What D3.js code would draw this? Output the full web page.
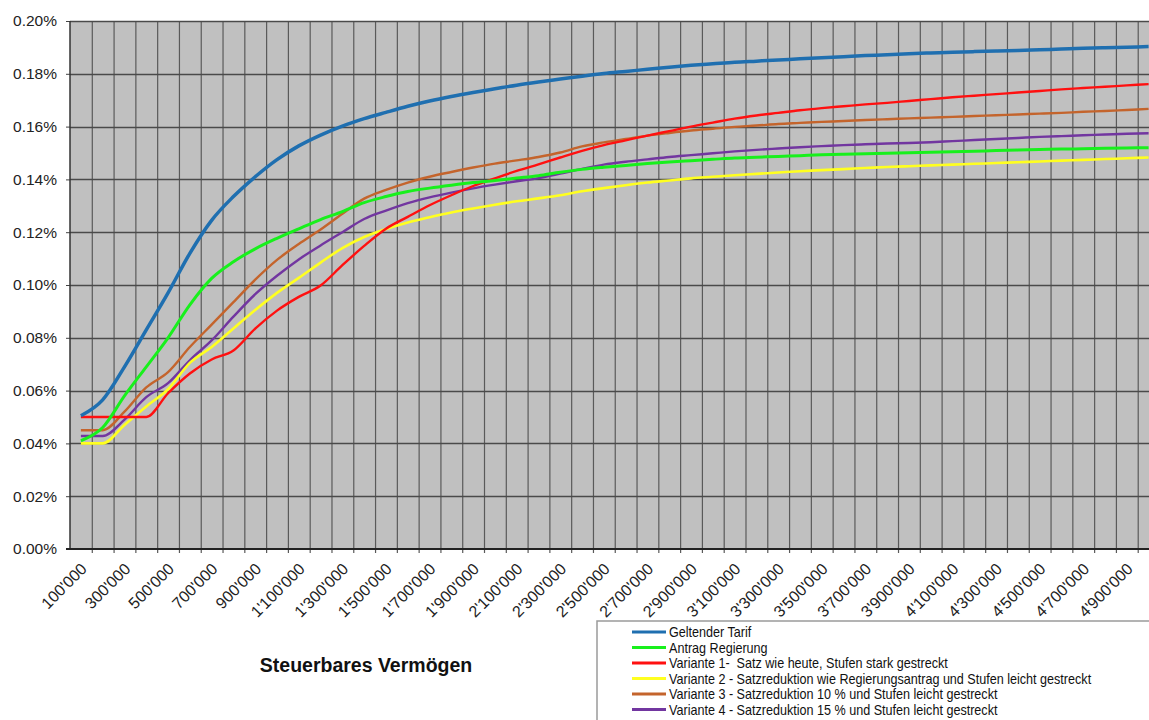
<!DOCTYPE html>
<html>
<head>
<meta charset="utf-8">
<script src="https://cdn.jsdelivr.net/npm/d3@7"></script>
<style>
  body { margin: 0; background: #fff; }
  svg { display: block; font-family: "Liberation Sans", Arial, sans-serif; }
</style>
</head>
<body>
<svg id="chart" width="1149" height="720"></svg>
<script>
// categories (Steuerbares Vermögen), one per 100'000
const categories = [
  "100'000","200'000","300'000","400'000","500'000","600'000","700'000","800'000","900'000","1'000'000",
  "1'100'000","1'200'000","1'300'000","1'400'000","1'500'000","1'600'000","1'700'000","1'800'000","1'900'000","2'000'000",
  "2'100'000","2'200'000","2'300'000","2'400'000","2'500'000","2'600'000","2'700'000","2'800'000","2'900'000","3'000'000",
  "3'100'000","3'200'000","3'300'000","3'400'000","3'500'000","3'600'000","3'700'000","3'800'000","3'900'000","4'000'000",
  "4'100'000","4'200'000","4'300'000","4'400'000","4'500'000","4'600'000","4'700'000","4'800'000","4'900'000","5'000'000"
];
const tickLabels = [
  "100'000","300'000","500'000","700'000","900'000","1'100'000","1'300'000","1'500'000","1'700'000","1'900'000",
  "2'100'000","2'300'000","2'500'000","2'700'000","2'900'000","3'100'000","3'300'000","3'500'000","3'700'000","3'900'000",
  "4'100'000","4'300'000","4'500'000","4'700'000","4'900'000"
];
const yTicks = [0, 0.02, 0.04, 0.06, 0.08, 0.10, 0.12, 0.14, 0.16, 0.18, 0.20];

// values in percent
const geltenderTarif = [
  0.0505,0.0565,0.0690,0.0830,0.0970,0.1120,0.1245,0.1335,0.1410,0.1475,
  0.1527,0.1568,0.1602,0.1630,0.1654,0.1677,0.1697,0.1714,0.1729,0.1743,
  0.1757,0.1769,0.1780,0.1791,0.1801,0.1809,0.1817,0.1825,0.1832,0.1838,
  0.1844,0.1848,0.1852,0.1857,0.1861,0.1865,0.1869,0.1872,0.1876,0.1879,
  0.1882,0.1884,0.1886,0.1888,0.1891,0.1894,0.1897,0.1899,0.1901,0.1903
];
const antragRegierung = [
  0.0410,0.0460,0.0580,0.0690,0.0800,0.0925,0.1025,0.1088,0.1137,0.1177,
  0.1213,0.1248,0.1278,0.1312,0.1335,0.1354,0.1367,0.1378,0.1388,0.1396,
  0.1405,0.1414,0.1427,0.1438,0.1446,0.1453,0.1460,0.1466,0.1471,0.1476,
  0.1481,0.1484,0.1487,0.1490,0.1493,0.1495,0.1497,0.1499,0.1501,0.1503,
  0.1505,0.1507,0.1509,0.1511,0.1513,0.1515,0.1516,0.1518,0.1519,0.1520
];
const variante1 = [
  0.0500,0.0500,0.0500,0.0500,0.0590,0.0665,0.0718,0.0752,0.0835,0.0903,
  0.0955,0.0998,0.1075,0.1148,0.1213,0.1258,0.1302,0.1340,0.1375,0.1404,
  0.1432,0.1457,0.1483,0.1508,0.1530,0.1548,0.1566,0.1583,0.1600,0.1615,
  0.1630,0.1642,0.1652,0.1662,0.1670,0.1677,0.1684,0.1690,0.1697,0.1704,
  0.1711,0.1717,0.1723,0.1729,0.1735,0.1741,0.1746,0.1751,0.1756,0.1761
];
const variante2 = [
  0.0400,0.0400,0.0470,0.0540,0.0605,0.0705,0.0765,0.0835,0.0905,0.0970,
  0.1027,0.1085,0.1140,0.1182,0.1212,0.1237,0.1257,0.1275,0.1290,0.1304,
  0.1317,0.1328,0.1340,0.1355,0.1367,0.1378,0.1388,0.1396,0.1404,0.1410,
  0.1416,0.1421,0.1426,0.1431,0.1435,0.1439,0.1443,0.1447,0.1450,0.1453,
  0.1456,0.1459,0.1462,0.1465,0.1468,0.1471,0.1474,0.1477,0.1480,0.1483
];
const variante3 = [
  0.0450,0.0450,0.0520,0.0612,0.0670,0.0765,0.0850,0.0935,0.1020,0.1095,
  0.1155,0.1210,0.1270,0.1327,0.1360,0.1388,0.1410,0.1428,0.1445,0.1460,
  0.1472,0.1485,0.1502,0.1525,0.1540,0.1553,0.1566,0.1576,0.1585,0.1592,
  0.1599,0.1604,0.1610,0.1614,0.1618,0.1621,0.1625,0.1628,0.1631,0.1634,
  0.1637,0.1640,0.1643,0.1646,0.1649,0.1652,0.1656,0.1659,0.1663,0.1667
];
const variante4 = [
  0.0428,0.0428,0.0490,0.0575,0.0628,0.0715,0.0790,0.0880,0.0965,0.1035,
  0.1097,0.1150,0.1200,0.1250,0.1282,0.1310,0.1332,0.1350,0.1366,0.1380,
  0.1393,0.1405,0.1422,0.1440,0.1456,0.1467,0.1476,0.1485,0.1492,0.1499,
  0.1506,0.1512,0.1517,0.1522,0.1526,0.1530,0.1533,0.1536,0.1538,0.1541,
  0.1545,0.1549,0.1553,0.1557,0.1561,0.1564,0.1567,0.1570,0.1573,0.1575
];
const seriesNames = [
  "Geltender Tarif",
  "Antrag Regierung",
  "Variante 1-  Satz wie heute, Stufen stark gestreckt",
  "Variante 2 - Satzreduktion wie Regierungsantrag und Stufen leicht gestreckt",
  "Variante 3 - Satzreduktion 10 % und Stufen leicht gestreckt",
  "Variante 4 - Satzreduktion 15 % und Stufen leicht gestreckt"
];
const seriesValues = [geltenderTarif, antragRegierung, variante1, variante2, variante3, variante4];

const colors = ["#1f6fb0", "#18f01c", "#ff1010", "#ffff20", "#c4642c", "#7236a0"];
const widths = [3.5, 3, 2.4, 2.6, 2.4, 2.4];

const margin = {top: 21, left: 70, bottom: 549};
const band = 21.79;

const svg = d3.select("#chart");

const x = d3.scaleBand()
    .domain(categories)
    .range([margin.left, margin.left + band * categories.length])
    .padding(0);

const y = d3.scaleLinear()
    .domain([0, 0.2])
    .range([margin.bottom, margin.top]);

const plotRight = x.range()[1];

// plot background
svg.append("rect")
    .attr("x", margin.left)
    .attr("y", margin.top)
    .attr("width", plotRight - margin.left)
    .attr("height", margin.bottom - margin.top)
    .attr("fill", "#c0c0c0");

// vertical gridlines at category boundaries
svg.append("g")
    .selectAll("line")
    .data(categories.slice(1))
    .join("line")
      .attr("x1", d => x(d) + 0.5)
      .attr("x2", d => x(d) + 0.5)
      .attr("y1", margin.top)
      .attr("y2", margin.bottom + 4)
      .attr("stroke", "#5a5a5a")
      .attr("stroke-width", 1.2);

// horizontal gridlines + y axis
const yAxis = svg.append("g")
    .attr("transform", `translate(${margin.left},0)`)
    .call(d3.axisLeft(y)
        .tickValues(yTicks)
        .tickFormat(d => d.toFixed(2) + "%")
        .tickSize(4)
        .tickPadding(9));
yAxis.select(".domain").remove();
yAxis.selectAll(".tick line").attr("stroke", "#444");
yAxis.selectAll(".tick text")
    .attr("font-size", 15.5)
    .attr("fill", "#222")
    .attr("font-family", "'Liberation Sans', Arial, sans-serif");

svg.append("g")
    .selectAll("line")
    .data(yTicks.slice(1))
    .join("line")
      .attr("x1", margin.left)
      .attr("x2", plotRight)
      .attr("y1", d => Math.round(y(d)) + 0.5)
      .attr("y2", d => Math.round(y(d)) + 0.5)
      .attr("stroke", "#4a4a4a")
      .attr("stroke-width", 1.3);

// axis lines
svg.append("line")
    .attr("x1", margin.left).attr("x2", margin.left)
    .attr("y1", margin.top).attr("y2", margin.bottom)
    .attr("stroke", "#333").attr("stroke-width", 1.5);
svg.append("line")
    .attr("x1", margin.left - 4).attr("x2", plotRight)
    .attr("y1", margin.bottom).attr("y2", margin.bottom)
    .attr("stroke", "#222").attr("stroke-width", 2);

// x tick labels
svg.append("g")
    .selectAll("text")
    .data(tickLabels)
    .join("text")
      .attr("transform", d => `translate(${x(d) + x.bandwidth() / 2 + 3},${margin.bottom + 17}) rotate(-45)`)
      .attr("text-anchor", "end")
      .attr("dy", "0.35em")
      .attr("font-size", 16)
      .attr("fill", "#222")
      .text(d => d);

// series lines
const line = d3.line()
    .x((d, i) => x(categories[i]) + x.bandwidth() / 2)
    .y(d => y(d))
    .curve(d3.curveMonotoneX);

const drawOrder = [5, 4, 3, 2, 1, 0];
svg.append("g")
    .selectAll("path")
    .data(drawOrder)
    .join("path")
      .attr("d", k => line(seriesValues[k]))
      .attr("fill", "none")
      .attr("stroke", k => colors[k])
      .attr("stroke-width", k => widths[k])
      .attr("stroke-linejoin", "round");

// axis title
svg.append("text")
    .attr("x", 366)
    .attr("y", 672)
    .attr("text-anchor", "middle")
    .attr("font-size", 19.5)
    .attr("font-weight", "bold")
    .attr("fill", "#111")
    .text("Steuerbares Vermögen");

// legend
const legend = svg.append("g");
legend.append("rect")
    .attr("x", 597)
    .attr("y", 621)
    .attr("width", 600)
    .attr("height", 120)
    .attr("fill", "#fff")
    .attr("stroke", "#9a9a9a")
    .attr("stroke-width", 1.5);

const items = legend.selectAll("g.item")
    .data(seriesNames)
    .join("g")
      .attr("class", "item")
      .attr("transform", (d, i) => `translate(632,${632 + i * 15.5})`);
items.append("line")
    .attr("x1", 0).attr("x2", 34)
    .attr("stroke", (d, i) => colors[i])
    .attr("stroke-width", 3);
items.append("text")
    .attr("transform", "translate(37,0) scale(0.9,1)")
    .attr("dy", "0.36em")
    .attr("font-size", 14)
    .attr("fill", "#111")
    .style("white-space", "pre")
    .text(d => d);
</script>
</body>
</html>
